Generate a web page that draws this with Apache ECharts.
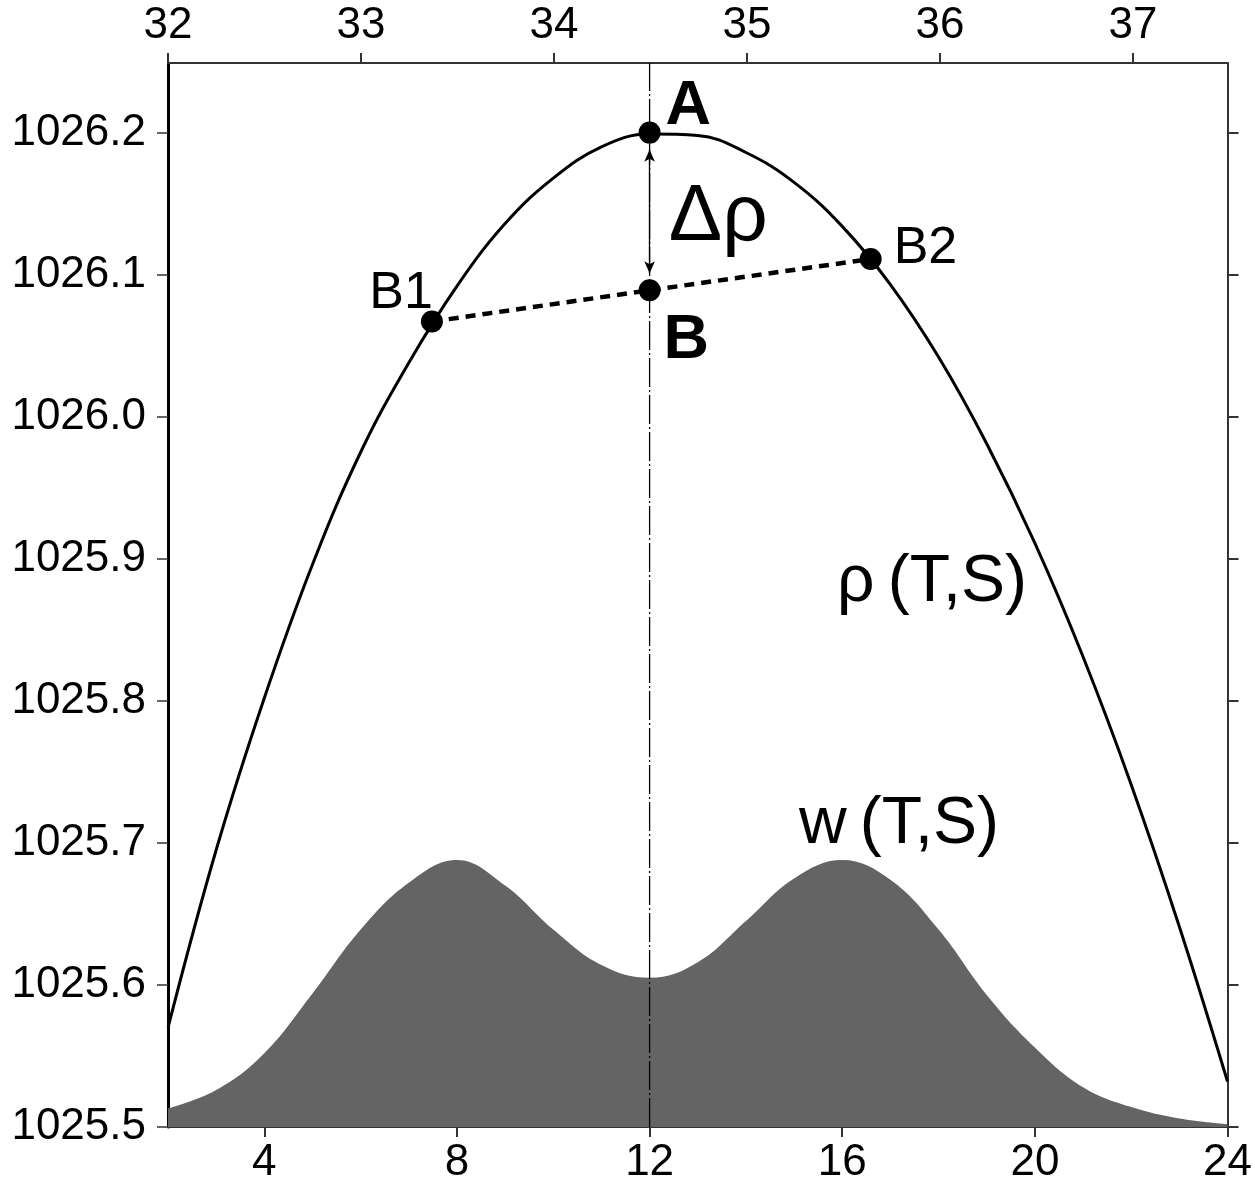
<!DOCTYPE html>
<html lang="en">
<head>
<meta charset="UTF-8">
<title>rho(T,S)</title>
<script src="https://cdn.jsdelivr.net/npm/echarts@6/dist/echarts.min.js"></script>
<style>
    body { margin:0; padding:0; background:#fff; }
    #main { width:1255px; height:1185px; }
</style>
</head>
<body>
<div id="main"></div>
<script>
// bottom axis values and the two curves
var tVals   = [2, 3, 4, 5, 6, 7, 8, 9, 10, 11, 12, 13, 14, 15, 16, 17, 18, 19, 20, 21, 22, 23, 24];
var rhoVals = [1025.570, 1025.695, 1025.802, 1025.896, 1025.975, 1026.038, 1026.092, 1026.136,
               1026.168, 1026.190, 1026.199, 1026.198, 1026.186, 1026.165, 1026.134, 1026.093,
               1026.042, 1025.981, 1025.911, 1025.831, 1025.741, 1025.641, 1025.532];
var wVals   = [1025.513, 1025.526, 1025.552, 1025.594, 1025.639, 1025.672, 1025.688, 1025.670,
               1025.639, 1025.614, 1025.605, 1025.616, 1025.645, 1025.675, 1025.688, 1025.674,
               1025.639, 1025.593, 1025.556, 1025.528, 1025.514, 1025.506, 1025.502];

// tick labels
var bottomTicks = [4, 8, 12, 16, 20, 24];
var topTicks = [32, 33, 34, 35, 36, 37];
var yTicks = [1025.5, 1025.6, 1025.7, 1025.8, 1025.9, 1026.0, 1026.1, 1026.2];

// marked points
var pointNames = ['A', 'B', 'B1', 'B2'];
var pointX = [12, 12, 7.48, 16.59];
var pointY = [1026.2, 1026.089, 1026.067, 1026.111];

// dashed chord B1 - B - B2
var chordX = [7.48, 12, 16.59];
var chordY = [1026.067, 1026.089, 1026.111];

// vertical guide and delta-rho arrow
var guideX = 12;
var arrowY = [1026.188, 1026.101];

// text notes
var noteText = ['\u0394\u03c1', '\u03c1\u2009(T,S)', 'w\u2009(T,S)'];
var noteX = [12.40, 15.89, 15.10];
var noteY = [1026.140, 1025.883, 1025.713];

var yMin = 1025.5, yMax = 1026.249;
var font = '"Liberation Sans", Arial, Helvetica, sans-serif';

var pointLabel = {
    'A':  { fontSize: 63, fontWeight: 'bold', align: 'left', offset: [16, -26] },
    'B':  { fontSize: 63, fontWeight: 'bold', align: 'left', offset: [14, 50] },
    'B1': { fontSize: 52, fontWeight: 'normal', align: 'right', offset: [1, -28] },
    'B2': { fontSize: 52, fontWeight: 'normal', align: 'left', offset: [23, -10] }
};
var noteSize = [80, 66, 66];

function zip(xs, ys) {
    return xs.map(function (x, i) { return [x, ys[i]]; });
}

var myChart = echarts.init(document.getElementById('main'));

var option = {
    animation: false,
    backgroundColor: '#fff',
    textStyle: { fontFamily: font, color: '#000' },
    grid: { left: 168, right: 27, top: 63, bottom: 58, containLabel: false },
    xAxis: [{
        type: 'value', position: 'bottom', min: 2, max: 24,
        axisLine: { show: true, lineStyle: { color: '#333', width: 2 } },
        axisTick: { show: true, customValues: bottomTicks, length: 10, lineStyle: { color: '#333', width: 2 } },
        axisLabel: { customValues: bottomTicks, fontSize: 44, color: '#000', margin: 14, fontFamily: font },
        splitLine: { show: false }
    }, {
        type: 'value', position: 'top', min: 32, max: 37.49,
        axisLine: { show: true, onZero: false, lineStyle: { color: '#333', width: 2 } },
        axisTick: { show: true, customValues: topTicks, length: 10, lineStyle: { color: '#333', width: 2 } },
        axisLabel: { customValues: topTicks, fontSize: 44, color: '#000', margin: 15, fontFamily: font },
        splitLine: { show: false }
    }],
    yAxis: [{
        type: 'value', position: 'left', min: yMin, max: yMax,
        axisLine: { show: true, onZero: false, lineStyle: { color: '#000', width: 3 } },
        axisTick: { show: true, customValues: yTicks, length: 11, lineStyle: { color: '#333', width: 1.5 } },
        axisLabel: {
            customValues: yTicks, fontSize: 44, color: '#000', margin: 22, fontFamily: font,
            formatter: function (v) { return v.toFixed(1); }
        },
        splitLine: { show: false }
    }, {
        type: 'value', position: 'right', min: yMin, max: yMax,
        axisLine: { show: true, onZero: false, lineStyle: { color: '#333', width: 2 } },
        axisTick: { show: true, customValues: yTicks, length: 11, lineStyle: { color: '#333', width: 2 } },
        axisLabel: { show: false },
        splitLine: { show: false }
    }],
    series: [
        {
            // w(T,S) shaded weight
            name: 'w', type: 'line', z: 1,
            data: zip(tVals, wVals),
            smooth: 0.4, showSymbol: false,
            lineStyle: { width: 0 },
            areaStyle: { color: '#646464', opacity: 1, origin: 'start' }
        },
        {
            // rho(T,S) curve
            name: 'rho', type: 'line', z: 3,
            data: zip(tVals, rhoVals),
            smooth: 0.4, showSymbol: false,
            lineStyle: { color: '#000', width: 3 }
        },
        {
            // vertical dash-dot guide, with the delta-rho arrow
            name: 'guide', type: 'line', z: 2,
            data: [[guideX, yMin], [guideX, yMax]],
            showSymbol: false,
            lineStyle: { color: '#000', width: 1.3, type: [29, 3, 2, 3] },
            markLine: {
                silent: true, symbol: ['arrow', 'arrow'], symbolSize: [8, 12],
                label: { show: false },
                lineStyle: { color: '#000', width: 1.3, type: 'solid' },
                data: [[{ coord: [guideX, arrowY[0]] }, { coord: [guideX, arrowY[1]] }]]
            }
        },
        {
            // dashed chord B1-B-B2
            name: 'chord', type: 'line', z: 4,
            data: zip(chordX, chordY),
            showSymbol: false,
            lineStyle: { color: '#000', width: 4.5, type: [10, 7] }
        },
        {
            name: 'points', type: 'scatter', z: 5,
            symbolSize: 22,
            itemStyle: { color: '#000', opacity: 1 },
            data: pointNames.map(function (n, i) {
                var s = pointLabel[n];
                return {
                    name: n, value: [pointX[i], pointY[i]],
                    label: {
                        show: true, position: 'inside', formatter: n,
                        fontSize: s.fontSize, fontWeight: s.fontWeight, align: s.align,
                        verticalAlign: 'middle', offset: s.offset, color: '#000', fontFamily: font
                    }
                };
            })
        },
        {
            name: 'notes', type: 'scatter', z: 5,
            symbolSize: 0,
            itemStyle: { color: '#000', opacity: 1 },
            data: noteText.map(function (t, i) {
                return {
                    name: t, value: [noteX[i], noteY[i]],
                    label: {
                        show: true, position: 'inside', formatter: t,
                        fontSize: noteSize[i], align: 'left', verticalAlign: 'middle',
                        color: '#000', fontFamily: font
                    }
                };
            })
        }
    ]
};

myChart.setOption(option);
</script>
</body>
</html>
